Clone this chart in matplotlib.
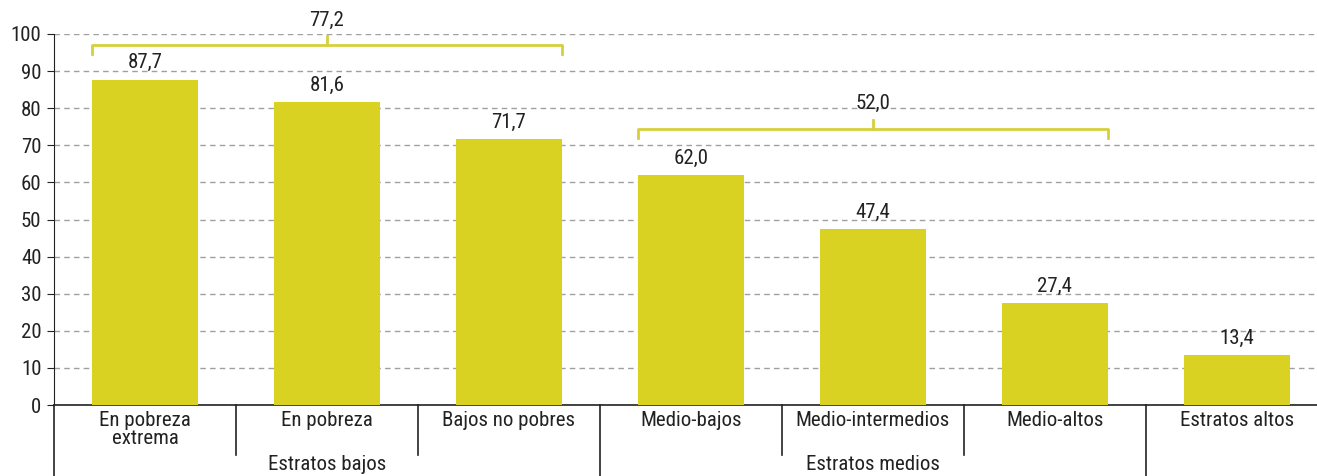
import matplotlib.pyplot as plt
from matplotlib import font_manager
import matplotlib.transforms as mtransforms

# Datos del gráfico
categorias = ["En pobreza\nextrema", "En pobreza", "Bajos no pobres", "Medio-bajos",
              "Medio-intermedios", "Medio-altos", "Estratos altos"]
valores = [87.7, 81.6, 71.7, 62.0, 47.4, 27.4, 13.4]
grupos = ["Estratos bajos", "Estratos medios"]
grupo_indices = [(0, 2), (3, 5)]   # primera y última barra de cada grupo
grupo_valores = [77.2, 52.0]
grupo_alturas = [97.0, 74.4]       # altura de la llave
yticks = list(range(0, 101, 10))

# Fuente condensada si existe
disponibles = {f.name for f in font_manager.fontManager.ttflist}
fuente = "Roboto"
for cand in ["Roboto Condensed", "Liberation Sans Narrow", "Open Sans Condensed"]:
    if cand in disponibles:
        fuente = cand
        break
plt.rcParams['font.family'] = [fuente, 'DejaVu Sans']
tam = 15 if fuente != "Roboto" else 13

color_barra = "#d9d223"
color_llave = "#d6d03c"

fig = plt.figure(figsize=(13.17, 4.76), dpi=100)
ax = fig.add_axes([0.041, 0.149, 0.959, 0.7797])

x = list(range(len(valores)))
ancho = 0.58
ax.bar(x, valores, width=ancho, color=color_barra, zorder=3)

for xi, v in zip(x, valores):
    ax.text(xi, v + 2.0, f"{v:.1f}".replace(".", ","), ha="center", va="bottom",
            fontsize=tam, color="#222222")

# Llaves de grupo
for (i0, i1), gv, h in zip(grupo_indices, grupo_valores, grupo_alturas):
    xl = i0 - ancho / 2
    xr = i1 + ancho / 2
    xm = (i0 + i1) / 2
    ax.plot([xl, xl, xr, xr], [h - 2.4, h, h, h - 2.4], color=color_llave, lw=2,
            clip_on=False, zorder=4, solid_joinstyle="round")
    ax.plot([xm, xm], [h, h + 2.4], color=color_llave, lw=2, clip_on=False, zorder=4)
    ax.text(xm, h + 4.2, f"{gv:.1f}".replace(".", ","), ha="center", va="bottom",
            fontsize=tam, color="#222222", clip_on=False)

ax.set_ylim(0, 100)
ax.set_xlim(-0.5, 6.44)
ax.set_yticks(yticks)
ax.set_yticklabels([str(t) for t in yticks], fontsize=tam, color="#222222")
ax.set_xticks([])
ax.yaxis.grid(True, linestyle=(0, (4, 3)), color="#a0a0a0", lw=1, zorder=0)
for s in ["top", "right"]:
    ax.spines[s].set_visible(False)
ax.spines["left"].set_color("#222222")
ax.spines["bottom"].set_color("#222222")
ax.spines["bottom"].set_linewidth(1.2)
ax.tick_params(axis="y", length=5, color="#222222", pad=4)

# Etiquetas de categorías y separadores
trans = mtransforms.blended_transform_factory(ax.transData, fig.transFigure)
for xi, c in zip(x, categorias):
    ax.text(xi, 1 - 411 / 476, c, transform=trans, ha="center", va="top",
            fontsize=tam, color="#222222", linespacing=0.95)
largos = [-0.5, 2.5, 5.5]
cortos = [0.5, 1.5, 3.5, 4.5]
for b in largos:
    ax.plot([b, b], [1 - 405 / 476, 0], transform=trans, color="#222222", lw=1.2, clip_on=False)
for b in cortos:
    ax.plot([b, b], [1 - 405 / 476, 1 - 455 / 476], transform=trans, color="#222222", lw=1.2,
            clip_on=False)
for (i0, i1), g in zip(grupo_indices, grupos):
    ax.text((i0 + i1) / 2, 1 - 455 / 476, g, transform=trans, ha="center", va="top",
            fontsize=tam, color="#222222")

fig.savefig("out.png", dpi=100)
